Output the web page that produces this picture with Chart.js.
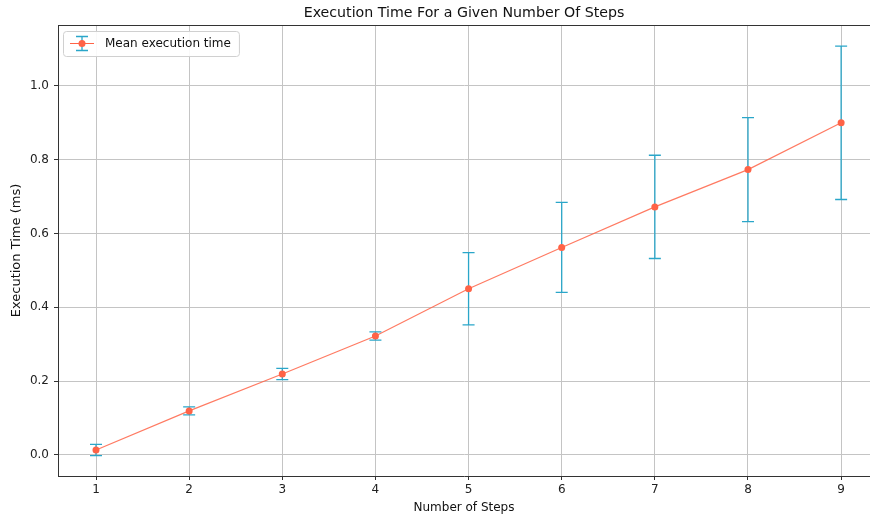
<!DOCTYPE html>
<html>
<head>
<meta charset="utf-8">
<script src="https://cdn.jsdelivr.net/npm/chart.js@4"></script>
<style>
  html, body { margin: 0; padding: 0; background: #fff; overflow: hidden; }
  #wrap { width: 870px; height: 518px; }
</style>
</head>
<body>
<div id="wrap"><canvas id="myChart" width="870" height="518"></canvas></div>
<script>
var steps = [1, 2, 3, 4, 5, 6, 7, 8, 9];
var meanTime = [0.013, 0.119, 0.219, 0.322, 0.450, 0.562, 0.672, 0.773, 0.900];
var stdTime  = [0.015, 0.011, 0.015, 0.011, 0.098, 0.122, 0.140, 0.141, 0.208];
var yTicks = [0.0, 0.2, 0.4, 0.6, 0.8, 1.0];

var lineColor = "#ff6347";
var errColor = "#2aa6c9";
var fontFamily = "'DejaVu Sans', sans-serif";

var points = steps.map(function (s, i) { return { x: s, y: meanTime[i] }; });

// vertical error bars with caps, drawn under the line
var errorBars = {
  id: "errorBars",
  beforeDatasetsDraw: function (chart) {
    var ctx = chart.ctx, xs = chart.scales.x, ys = chart.scales.y;
    ctx.save();
    ctx.strokeStyle = errColor;
    ctx.lineWidth = 1.3;
    steps.forEach(function (s, i) {
      var px = xs.getPixelForValue(s);
      var top = ys.getPixelForValue(meanTime[i] + stdTime[i]);
      var bot = ys.getPixelForValue(meanTime[i] - stdTime[i]);
      ctx.beginPath();
      ctx.moveTo(px, top); ctx.lineTo(px, bot);
      ctx.moveTo(px - 6, top); ctx.lineTo(px + 6, top);
      ctx.moveTo(px - 6, bot); ctx.lineTo(px + 6, bot);
      ctx.stroke();
    });
    ctx.restore();
  }
};

// top spine and the boxed legend inside the axes
var frame = {
  id: "frame",
  afterDraw: function (chart) {
    var ctx = chart.ctx, a = chart.chartArea;
    ctx.save();
    ctx.strokeStyle = "#333";
    ctx.lineWidth = 1;
    ctx.beginPath();
    ctx.moveTo(a.left, a.top + 0.5); ctx.lineTo(a.right, a.top + 0.5);
    ctx.stroke();

    var label = chart.data.datasets[0].label;
    ctx.font = "12px " + fontFamily;
    var tw = ctx.measureText(label).width;
    var bx = a.left + 5, by = a.top + 6, bw = tw + 50, bh = 25;
    ctx.fillStyle = "rgba(255,255,255,0.9)";
    ctx.strokeStyle = "#d0d0d0";
    ctx.beginPath();
    ctx.roundRect(bx + 0.5, by + 0.5, bw, bh, 3);
    ctx.fill(); ctx.stroke();

    var cx = bx + 19, cy = by + bh / 2;
    ctx.strokeStyle = lineColor;
    ctx.lineWidth = 1;
    ctx.beginPath(); ctx.moveTo(bx + 7, cy); ctx.lineTo(bx + 31, cy); ctx.stroke();
    ctx.strokeStyle = errColor;
    ctx.lineWidth = 1.3;
    ctx.beginPath();
    ctx.moveTo(cx, cy - 7); ctx.lineTo(cx, cy + 7);
    ctx.moveTo(cx - 6, cy - 7); ctx.lineTo(cx + 6, cy - 7);
    ctx.moveTo(cx - 6, cy + 7); ctx.lineTo(cx + 6, cy + 7);
    ctx.stroke();
    ctx.fillStyle = lineColor;
    ctx.beginPath(); ctx.arc(cx, cy, 3.5, 0, Math.PI * 2); ctx.fill();

    ctx.fillStyle = "#111";
    ctx.textBaseline = "middle";
    ctx.fillText(label, bx + 42, cy + 0.5);
    ctx.restore();
  }
};

var ctx = document.getElementById("myChart");
var myChart = new Chart(ctx, {
  type: "line",
  data: {
    datasets: [
      {
        label: "Mean execution time",
        data: points,
        borderColor: "rgba(255,99,71,0.85)",
        borderWidth: 1.2,
        pointRadius: 3.5,
        pointBackgroundColor: lineColor,
        pointBorderWidth: 0,
        fill: false,
        tension: 0
      }
    ]
  },
  options: {
    responsive: false,
    animation: false,
    layout: { padding: 0, autoPadding: false },
    plugins: {
      legend: { display: false },
      tooltip: { enabled: false },
      title: {
        display: true,
        fullSize: false,
        text: "Execution Time For a Given Number Of Steps",
        color: "#111",
        font: { family: fontFamily, size: 14.2, weight: "normal", lineHeight: "16px" },
        padding: { top: 5, bottom: 4 }
      }
    },
    scales: {
      x: {
        type: "linear",
        min: 0.592,
        max: 9.31,
        afterBuildTicks: function (s) { s.ticks = steps.map(function (v) { return { value: v }; }); },
        afterFit: function (s) { s.height = 42; s.paddingLeft = 0; s.paddingRight = 0; },
        ticks: { color: "#222", font: { family: fontFamily, size: 12 }, padding: 3, maxRotation: 0 },
        grid: { color: "#c4c4c4", lineWidth: 1, tickColor: "#333", tickLength: 4 },
        border: { display: true, color: "#333", width: 1 },
        title: {
          display: true,
          text: "Number of Steps",
          color: "#111",
          font: { family: fontFamily, size: 12 },
          padding: { top: 0, bottom: 3 }
        }
      },
      y: {
        type: "linear",
        min: -0.0575,
        max: 1.165,
        afterBuildTicks: function (s) { s.ticks = yTicks.map(function (v) { return { value: v }; }); },
        afterFit: function (s) { s.width = 58; s.paddingTop = 0; s.paddingBottom = 0; },
        ticks: {
          color: "#222",
          font: { family: fontFamily, size: 12 },
          padding: 5,
          callback: function (v) { return v.toFixed(1); }
        },
        grid: { color: "#c4c4c4", lineWidth: 1, tickColor: "#333", tickLength: 4 },
        border: { display: true, color: "#333", width: 1 },
        title: {
          display: true,
          text: "Execution Time (ms)",
          color: "#111",
          font: { family: fontFamily, size: 13 },
          padding: { top: 9, bottom: 0 }
        }
      }
    }
  },
  plugins: [errorBars, frame]
});
</script>
</body>
</html>
